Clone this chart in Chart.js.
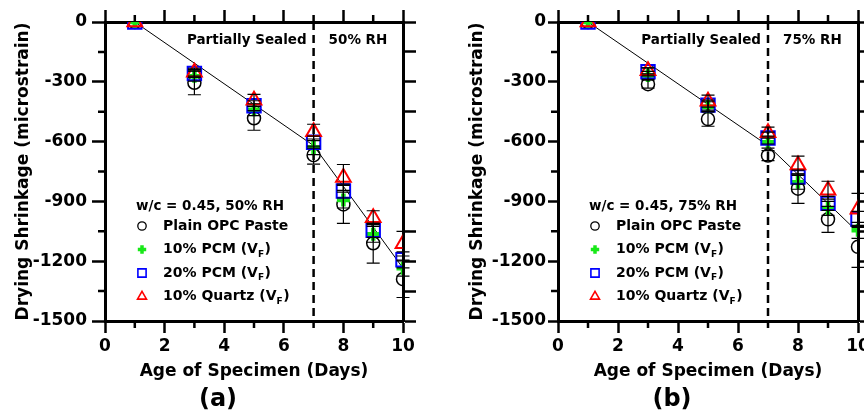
<!DOCTYPE html>
<html>
<head>
<meta charset="utf-8">
<script src="https://cdn.jsdelivr.net/npm/chart.js@4.4.0/dist/chart.umd.min.js"></script>
<style>
  html, body { margin: 0; padding: 0; background: #fff; overflow: hidden; }
  body { width: 864px; height: 416px; position: relative; }
  .panel { position: absolute; top: 0; height: 416px; }
  #panelA { left: 0; width: 432px; }
  #panelB { left: 432px; width: 460px; }
</style>
</head>
<body>
<div class="panel" id="panelA"><canvas id="chartA" width="432" height="416"></canvas></div>
<div class="panel" id="panelB"><canvas id="chartB" width="460" height="416"></canvas></div>
<script>
// Days of measurement
const days = [1, 3, 5, 7, 8, 9, 10];

// Panel (a): w/c = 0.45, 50% RH
const opcA = [0, -305, -483, -668, -915, -1110, -1290];
const pcm10A = [0, -272, -440, -630, -893, -1065, -1235];
const pcm20A = [0, -258, -420, -603, -848, -1045, -1193];
const quartzA = [0, -252, -393, -550, -780, -982, -1112];
const errOpcA = [0, 60, 60, 45, 95, 100, 92];
const errPcm10A = [0, 25, 30, 35, 40, 40, 40];
const errPcm20A = [0, 20, 25, 30, 35, 35, 40];
const errQuartzA = [0, 20, 30, 37, 65, 35, 62];

// Panel (b): w/c = 0.45, 75% RH
const opcB = [0, -312, -487, -670, -836, -990, -1128];
const pcm10B = [0, -268, -425, -603, -804, -935, -1045];
const pcm20B = [0, -250, -417, -582, -778, -910, -990];
const quartzB = [0, -245, -397, -555, -718, -844, -940];
const errOpcB = [0, 20, 36, 25, 74, 65, 103];
const errPcm10B = [0, 20, 25, 30, 35, 35, 40];
const errPcm20B = [0, 20, 25, 30, 35, 35, 40];
const errQuartzB = [0, 15, 30, 28, 45, 45, 80];

// Trend lines
const fitDays = [1, 7, 10];
const fitA = [0, -620, -1235];
const fitB = [0, -620, -1055];

// Axes
const changeDay = 7;
const xTickValues = [0, 2, 4, 6, 8, 10];
const xMinorValues = [1, 3, 5, 7, 9];
const yTickValues = [0, -300, -600, -900, -1200, -1500];
const yMinorValues = [-150, -450, -750, -1050, -1350];
const yRightValues = [0, -150, -300, -450, -600, -750, -900, -1050, -1200, -1350, -1500];

const seriesLabels = ['Plain OPC Paste', '10% PCM (V', '20% PCM (V', '10% Quartz (V'];
const seriesSub = [false, true, true, true];

const FONT = 'DejaVu Sans';
const GREEN = 'rgb(24,232,24)';
const BLUE = '#0000ff';
const RED = '#ff0000';

const styles = [
  { pointStyle: 'circle', color: '#000', radius: 6.5, width: 1.5, legendRadius: 4.2, legendWidth: 1.3 },
  { pointStyle: 'cross', color: GREEN, radius: 6.5, width: 4.5, legendRadius: 4.2, legendWidth: 3.5 },
  { pointStyle: 'rect', color: BLUE, radius: 9.5, width: 2, legendRadius: 5.8, legendWidth: 1.6 },
  { pointStyle: 'triangle', color: RED, radius: 8.5, width: 2, legendRadius: 5.2, legendWidth: 1.6 }
];

function toPoints(xs, ys) {
  return xs.map((x, i) => ({ x: x, y: ys[i] }));
}

// Error bars (black, capped) drawn on top of markers
const errorBars = {
  id: 'errorBars',
  afterDatasetsDraw(chart) {
    const ctx = chart.ctx, xs = chart.scales.x, ys = chart.scales.y;
    ctx.save();
    ctx.strokeStyle = '#000';
    ctx.lineWidth = 1.2;
    chart.data.datasets.forEach(ds => {
      if (!ds.errors) return;
      ds.data.forEach((p, i) => {
        const e = ds.errors[i];
        if (!e) return;
        const px = xs.getPixelForValue(p.x);
        const top = ys.getPixelForValue(p.y + e);
        const bot = ys.getPixelForValue(p.y - e);
        ctx.beginPath();
        ctx.moveTo(px, top); ctx.lineTo(px, bot);
        ctx.moveTo(px - 6.5, top); ctx.lineTo(px + 6.5, top);
        ctx.moveTo(px - 6.5, bot); ctx.lineTo(px + 6.5, bot);
        ctx.stroke();
      });
    });
    ctx.restore();
  }
};

// Short minor ticks on bottom, top and left axes
const minorTicks = {
  id: 'minorTicks',
  afterDraw(chart) {
    const ctx = chart.ctx, a = chart.chartArea;
    const xs = chart.scales.x, ys = chart.scales.y;
    ctx.save();
    ctx.strokeStyle = '#000';
    ctx.lineWidth = 2.5;
    ctx.beginPath();
    xMinorValues.forEach(v => {
      const px = xs.getPixelForValue(v);
      ctx.moveTo(px, a.bottom); ctx.lineTo(px, a.bottom + 7);
      ctx.moveTo(px, a.top); ctx.lineTo(px, a.top - 7);
    });
    yMinorValues.forEach(v => {
      const py = ys.getPixelForValue(v);
      ctx.moveTo(a.left, py); ctx.lineTo(a.left - 7, py);
    });
    ctx.stroke();
    ctx.restore();
  }
};

function drawSubText(ctx, text, sub, x, y, size) {
  ctx.font = 'bold ' + size + 'px "' + FONT + '"';
  ctx.fillText(text, x, y);
  if (!sub) return;
  let w = ctx.measureText(text).width;
  ctx.font = 'bold 9px "' + FONT + '"';
  ctx.fillText('F', x + w, y + 5);
  w += ctx.measureText('F').width;
  ctx.font = 'bold ' + size + 'px "' + FONT + '"';
  ctx.fillText(')', x + w + 0.5, y);
}

// Region labels, legend and panel letter
const annotations = {
  id: 'annotations',
  afterDraw(chart, args, opts) {
    const ctx = chart.ctx, a = chart.chartArea;
    const xs = chart.scales.x;
    const xc = xs.getPixelForValue(changeDay);
    ctx.save();
    ctx.fillStyle = '#000';
    ctx.textBaseline = 'middle';
    ctx.font = 'bold 13.5px "' + FONT + '"';
    ctx.textAlign = 'right';
    ctx.fillText('Partially Sealed', xc - 7, a.top + 18);
    ctx.textAlign = 'left';
    ctx.fillText(opts.rh, xc + 15, a.top + 18);

    // legend
    const lx = a.left + 31;
    ctx.fillText(opts.legendTitle, lx, 206);
    const rows = [226, 249.5, 273, 296.5];
    rows.forEach((ry, i) => {
      const st = styles[i];
      ctx.save();
      ctx.strokeStyle = st.color;
      ctx.fillStyle = 'rgba(0,0,0,0)';
      ctx.lineWidth = st.legendWidth;
      Chart.helpers.drawPoint(ctx, { pointStyle: st.pointStyle, radius: st.legendRadius, rotation: 0, borderWidth: st.legendWidth }, lx + 6, ry);
      ctx.restore();
      ctx.fillStyle = '#000';
      ctx.textAlign = 'left';
      drawSubText(ctx, seriesLabels[i], seriesSub[i], lx + 27, ry, 14);
    });

    // panel letter
    ctx.textAlign = 'center';
    ctx.font = 'bold 24px "' + FONT + '"';
    ctx.fillText(opts.letter, (a.left + a.right) / 2 - 36, 400);
    ctx.restore();
  }
};

function buildChart(canvasId, p) {
  const series = [p.opc, p.pcm10, p.pcm20, p.quartz];
  const errs = [p.errOpc, p.errPcm10, p.errPcm20, p.errQuartz];
  const datasets = series.map((vals, i) => ({
    label: seriesLabels[i],
    data: toPoints(days, vals),
    errors: errs[i],
    showLine: false,
    pointStyle: styles[i].pointStyle,
    pointRadius: styles[i].radius,
    pointBorderWidth: styles[i].width,
    pointBorderColor: styles[i].color,
    pointBackgroundColor: 'rgba(0,0,0,0)',
    order: 4 - i
  }));
  datasets.push({
    label: 'trend',
    data: toPoints(fitDays, p.fit),
    showLine: true,
    borderColor: '#000',
    borderWidth: 1,
    pointRadius: 0,
    order: 5
  });
  datasets.push({
    label: 'change',
    data: [{ x: changeDay, y: 0 }, { x: changeDay, y: -1500 }],
    showLine: true,
    borderColor: '#000',
    borderWidth: 2.5,
    borderDash: [8, 5],
    pointRadius: 0,
    order: 6
  });

  const tickFont = { family: FONT, weight: 'bold', size: 17 };
  const titleFont = { family: FONT, weight: 'bold', size: 17 };
  const gridOpts = len => ({ drawOnChartArea: false, tickLength: len, tickWidth: 2.5, tickColor: '#000' });
  const borderOpts = { color: '#000', width: 3 };

  return new Chart(document.getElementById(canvasId), {
    type: 'scatter',
    data: { datasets: datasets },
    options: {
      responsive: false,
      animation: false,
      events: [],
      layout: { padding: 0 },
      plugins: {
        legend: { display: false },
        tooltip: { enabled: false },
        annotations: { rh: p.rh, legendTitle: p.legendTitle, letter: p.letter }
      },
      scales: {
        x: {
          type: 'linear', position: 'bottom', min: 0, max: 10,
          afterBuildTicks: s => { s.ticks = xTickValues.map(v => ({ value: v })); },
          ticks: { color: '#000', font: tickFont, padding: 3, maxRotation: 0, autoSkip: false, callback: v => String(v) },
          grid: gridOpts(12),
          border: borderOpts,
          title: { display: true, text: 'Age of Specimen (Days)', color: '#000', font: titleFont, padding: { top: 0, bottom: 34 } },
          afterFit: s => { s.height = 95; }
        },
        xTop: {
          type: 'linear', position: 'top', min: 0, max: 10,
          afterBuildTicks: s => { s.ticks = xTickValues.map(v => ({ value: v })); },
          ticks: { display: false },
          grid: gridOpts(12),
          border: borderOpts,
          afterFit: s => { s.height = 22; }
        },
        y: {
          type: 'linear', position: 'left', min: -1500, max: 0,
          afterBuildTicks: s => { s.ticks = yTickValues.map(v => ({ value: v })); },
          ticks: { color: '#000', font: tickFont, padding: p.labelPad, autoSkip: false, callback: v => String(v) },
          grid: gridOpts(p.tickLen),
          border: borderOpts,
          title: { display: true, text: 'Drying Shrinkage (microstrain)', color: '#000', font: titleFont, padding: { top: p.titlePad, bottom: 0 } },
          afterFit: s => { s.width = p.leftW; }
        },
        yRight: {
          type: 'linear', position: 'right', min: -1500, max: 0,
          afterBuildTicks: s => { s.ticks = yRightValues.map(v => ({ value: v })); },
          ticks: { display: false },
          grid: gridOpts(13),
          border: borderOpts,
          afterFit: s => { s.width = p.rightW; }
        }
      }
    },
    plugins: [errorBars, minorTicks, annotations]
  });
}

buildChart('chartA', {
  opc: opcA, pcm10: pcm10A, pcm20: pcm20A, quartz: quartzA,
  errOpc: errOpcA, errPcm10: errPcm10A, errPcm20: errPcm20A, errQuartz: errQuartzA,
  fit: fitA, rh: '50% RH', legendTitle: 'w/c = 0.45, 50% RH', letter: '(a)',
  leftW: 105, rightW: 29, labelPad: 5, tickLen: 13, titlePad: 13
});

buildChart('chartB', {
  opc: opcB, pcm10: pcm10B, pcm20: pcm20B, quartz: quartzB,
  errOpc: errOpcB, errPcm10: errPcm10B, errPcm20: errPcm20B, errQuartz: errQuartzB,
  fit: fitB, rh: '75% RH', legendTitle: 'w/c = 0.45, 75% RH', letter: '(b)',
  leftW: 126, rightW: 34, labelPad: 2, tickLen: 10, titlePad: 35
});
</script>
</body>
</html>
